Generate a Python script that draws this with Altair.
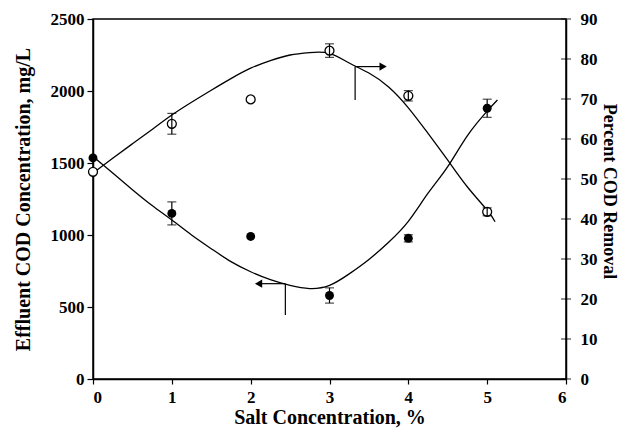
import altair as alt
import pandas as pd

# Measured points
salt = [0, 1, 2, 3, 4, 5]
cod_eff = [1535, 1150, 990, 580, 977, 1880]          # mg/L (left axis)
cod_eff_err = [0, 80, 0, 53, 25, 63]
removal = [51.8, 63.8, 69.9, 82.1, 70.8, 41.8]       # % (right axis)
removal_err = [0, 2.6, 0, 1.7, 1.3, 1.0]

# Fitted curves
fit_eff_x = [0, 0.25, 0.5, 0.75, 1.0, 1.25, 1.5, 1.75, 2.0, 2.25, 2.5, 2.75, 3.0,
             3.25, 3.5, 3.75, 4.0, 4.25, 4.5, 4.75, 5.0, 5.13]
fit_eff_y = [1545, 1430, 1315, 1205, 1104, 1000, 905, 815, 745, 690, 650, 628, 650,
             730, 830, 950, 1095, 1290, 1475, 1690, 1860, 1937]
fit_rem_x = [0, 0.25, 0.5, 0.75, 1.0, 1.25, 1.5, 1.75, 2.0, 2.25, 2.5, 2.75, 3.0,
             3.25, 3.5, 3.75, 4.0, 4.25, 4.5, 4.75, 5.0, 5.1]
fit_rem_y = [51.5, 55.2, 58.8, 62.4, 66.0, 69.2, 72.2, 75.1, 77.7, 79.6, 81.0, 81.6, 81.4,
             79.0, 76.5, 73.0, 67.8, 61.4, 54.7, 48.0, 42.2, 39.3]

# Annotation arrows (data coordinates)
arrow_eff_x = [2.44, 2.03]
arrow_eff_y = [662, 444]
arrow_rem_x = [3.325, 3.75]
arrow_rem_y = [78.1, 69.75]

left_ticks = [0, 500, 1000, 1500, 2000, 2500]
right_ticks = [0, 10, 20, 30, 40, 50, 60, 70, 80, 90]
x_ticks = [0, 1, 2, 3, 4, 5, 6]

FONT = "Liberation Serif"
W, H = 473, 360

pts = pd.DataFrame({"x": salt, "eff": cod_eff, "eerr": cod_eff_err,
                    "rem": removal, "rerr": removal_err})
pts["elo"] = pts.eff - pts.eerr
pts["ehi"] = pts.eff + pts.eerr
pts["rlo"] = pts.rem - pts.rerr
pts["rhi"] = pts.rem + pts.rerr
eerr = pts[pts.eerr > 0]
rerr = pts[pts.rerr > 0]

fe = pd.DataFrame({"x": fit_eff_x, "y": fit_eff_y})
fr = pd.DataFrame({"x": fit_rem_x, "y": fit_rem_y})

xs = alt.Scale(domain=[0, 6], nice=False)
xaxis = alt.Axis(title="Salt Concentration, %", values=x_ticks, format="d",
                 grid=False, tickSize=5, labelPadding=5, labelOverlap=False,
                 titleX=W / 2, titleY=38, titleBaseline="middle", titleAlign="center")
ly = alt.Scale(domain=[0, 2500], nice=False)
ry = alt.Scale(domain=[0, 90], nice=False)
lyaxis = alt.Axis(title="Effluent COD Concentration, mg/L", values=left_ticks,
                  format="d", grid=False, tickSize=6, labelPadding=3, orient="left",
                  labelOverlap=False, titleX=-70, titleY=H / 2, titleAngle=270,
                  titleBaseline="middle", titleAlign="center")
ryaxis = alt.Axis(title="Percent COD Removal", values=right_ticks, format="d", grid=False, ticks=False,
                  labelPadding=14, orient="right", labelOverlap=False, titleFontSize=18,
                  titleX=42, titleY=H / 2 - 8, titleAngle=90, titleBaseline="middle", titleAlign="center")

X = alt.X("x:Q", scale=xs, axis=xaxis)
INTERP = "natural"


def LY(field):
    return alt.Y(field, scale=ly, axis=lyaxis)


def RY(field):
    return alt.Y(field, scale=ry, axis=ryaxis)


# Left-axis layer
eff_line = alt.Chart(fe).mark_line(color="black", strokeWidth=1.3, interpolate=INTERP).encode(
    x=X, y=LY("y:Q"))
eff_rule = alt.Chart(eerr).mark_rule(color="black", strokeWidth=1.2).encode(
    x=X, y=LY("elo:Q"), y2="ehi:Q")
eff_cap_lo = alt.Chart(eerr).mark_tick(orient="horizontal", color="black", size=9, thickness=1.2).encode(
    x=X, y=LY("elo:Q"))
eff_cap_hi = alt.Chart(eerr).mark_tick(orient="horizontal", color="black", size=9, thickness=1.2).encode(
    x=X, y=LY("ehi:Q"))
eff_pts = alt.Chart(pts).mark_point(shape="circle", filled=True, color="black", size=80, opacity=1).encode(
    x=X, y=LY("eff:Q"))

ae = pd.DataFrame({"x1": [arrow_eff_x[0], arrow_eff_x[0]], "x2": [arrow_eff_x[1] + 0.06, arrow_eff_x[0]],
                   "y1": [arrow_eff_y[0], arrow_eff_y[0]], "y2": [arrow_eff_y[0], arrow_eff_y[1]]})
ae_lines = alt.Chart(ae).mark_rule(color="black", strokeWidth=1.2).encode(
    x=alt.X("x1:Q", scale=xs, axis=xaxis), x2="x2:Q", y=LY("y1:Q"), y2="y2:Q")
ae_head = alt.Chart(pd.DataFrame({"x": [arrow_eff_x[1] + 0.07], "y": [arrow_eff_y[0]]})).mark_point(
    shape="triangle-left", filled=True, color="black", size=70, opacity=1).encode(
    x=X, y=LY("y:Q"))

left = alt.layer(eff_line, eff_rule, eff_cap_lo, eff_cap_hi, eff_pts, ae_lines, ae_head)

# Right-axis layer
rem_line = alt.Chart(fr).mark_line(color="black", strokeWidth=1.3, interpolate=INTERP).encode(
    x=X, y=RY("y:Q"))
rem_rule = alt.Chart(rerr).mark_rule(color="black", strokeWidth=1.2).encode(
    x=X, y=RY("rlo:Q"), y2="rhi:Q")
rem_cap_lo = alt.Chart(rerr).mark_tick(orient="horizontal", color="black", size=9, thickness=1.2).encode(
    x=X, y=RY("rlo:Q"))
rem_cap_hi = alt.Chart(rerr).mark_tick(orient="horizontal", color="black", size=9, thickness=1.2).encode(
    x=X, y=RY("rhi:Q"))
rem_pts = alt.Chart(pts).mark_point(shape="circle", filled=True, fill="white", stroke="black",
                                    strokeWidth=1.3, size=80, opacity=1).encode(
    x=X, y=RY("rem:Q"))

ar = pd.DataFrame({"x1": [arrow_rem_x[0], arrow_rem_x[0]], "x2": [arrow_rem_x[1] - 0.06, arrow_rem_x[0]],
                   "y1": [arrow_rem_y[0], arrow_rem_y[0]], "y2": [arrow_rem_y[0], arrow_rem_y[1]]})
ar_lines = alt.Chart(ar).mark_rule(color="black", strokeWidth=1.2).encode(
    x=alt.X("x1:Q", scale=xs, axis=xaxis), x2="x2:Q", y=RY("y1:Q"), y2="y2:Q")
ar_head = alt.Chart(pd.DataFrame({"x": [arrow_rem_x[1] - 0.07], "y": [arrow_rem_y[0]]})).mark_point(
    shape="triangle-right", filled=True, color="black", size=70, opacity=1).encode(
    x=X, y=RY("y:Q"))

rt = pd.DataFrame({"x": [6] * len(right_ticks), "y": right_ticks})
r_ticks = alt.Chart(rt).mark_tick(orient="horizontal", color="black", size=10, thickness=1.2).encode(
    x=X, y=RY("y:Q"))

right = alt.layer(rem_line, rem_pts, rem_rule, rem_cap_lo, rem_cap_hi, ar_lines, ar_head, r_ticks)

chart = alt.layer(left, right).resolve_scale(y="independent").properties(
    width=W, height=H,
    background="white",
    autosize=alt.AutoSizeParams(type="none"),
    padding={"left": 85, "top": 11, "right": 52, "bottom": 50},
).configure_view(stroke="black", strokeWidth=1.5).configure_axis(
    labelFont=FONT, titleFont=FONT, labelFontWeight="bold", titleFontWeight="bold",
    labelFontSize=17, titleFontSize=20, labelColor="black", titleColor="black",
    domainColor="black", tickColor="black", domainWidth=1.5, tickWidth=1.2,
)

chart.save("out.html", embed_options={"renderer": "svg", "actions": False})
